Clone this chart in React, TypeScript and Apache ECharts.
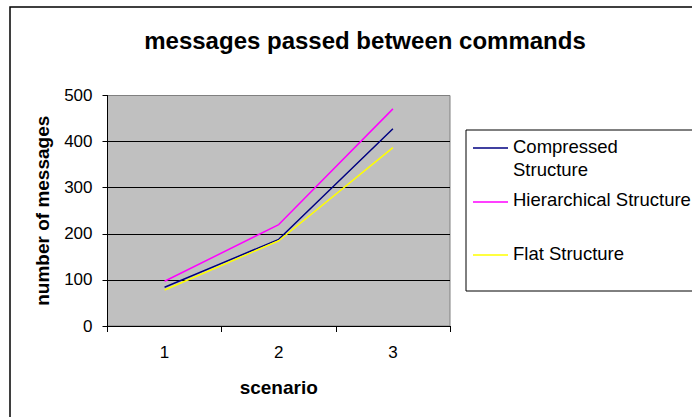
import React, { useEffect, useRef } from "react";
import * as echarts from "echarts";

const categories = ["1", "2", "3"];
const compressed = [84, 188, 428];
const hierarchical = [97, 220, 471];
const flat = [78, 185, 387];
const seriesNames = ["Compressed Structure", "Hierarchical Structure", "Flat Structure"];
const seriesColors = ["#000080", "#FF00FF", "#FFFF00"];

const FONT = "'Liberation Sans', Arial, sans-serif";

export default function App() {
  const ref = useRef<HTMLDivElement>(null);
  useEffect(() => {
    if (!ref.current) return;
    const chart = echarts.init(ref.current, null, { renderer: "svg" });
    const data = [compressed, hierarchical, flat];
    chart.setOption({
      animation: false,
      backgroundColor: "#ffffff",
      textStyle: { fontFamily: FONT },
      title: {
        text: "messages passed between commands",
        left: 360,
        top: 23,
        textAlign: "center",
        textStyle: { fontFamily: FONT, fontSize: 24, fontWeight: "bold", color: "#000" },
      },
      grid: {
        left: 107.5,
        right: 242,
        top: 95.5,
        bottom: 91,
        show: true,
        backgroundColor: "#C0C0C0",
        borderColor: "#808080",
        borderWidth: 1,
      },
      xAxis: {
        type: "category",
        data: categories,
        boundaryGap: true,
        name: "scenario",
        nameLocation: "middle",
        nameGap: 52,
        nameTextStyle: { fontFamily: FONT, fontSize: 19, fontWeight: "bold", color: "#000" },
        axisLine: { lineStyle: { color: "#000", width: 1 } },
        axisTick: { show: true, inside: false, length: 6, alignWithLabel: false, lineStyle: { color: "#000" } },
        axisLabel: { fontFamily: FONT, fontSize: 17, color: "#000", margin: 18 },
        splitLine: { show: false },
      },
      yAxis: {
        type: "value",
        min: 0,
        max: 500,
        interval: 100,
        name: "number of messages",
        nameLocation: "middle",
        nameGap: 56,
        nameTextStyle: { fontFamily: FONT, fontSize: 19, fontWeight: "bold", color: "#000" },
        axisLine: { show: true, lineStyle: { color: "#000", width: 1 } },
        axisTick: { show: true, inside: false, length: 5, lineStyle: { color: "#000" } },
        axisLabel: { fontFamily: FONT, fontSize: 17, color: "#000", margin: 15 },
        splitLine: { show: true, showMinLine: false, showMaxLine: false, lineStyle: { color: "#000", width: 1 } },
      },
      series: seriesNames.map((name, i) => ({
        name,
        type: "line",
        data: data[i],
        showSymbol: false,
        symbol: "none",
        lineStyle: { color: seriesColors[i], width: 1.5 },
        itemStyle: { color: seriesColors[i] },
      })),
      graphic: [
        {
          type: "rect",
          shape: { x: 10, y: 7, width: 700, height: 430 },
          style: { fill: "none", stroke: "#000", lineWidth: 1.5 },
          silent: true,
        },
        {
          type: "rect",
          shape: { x: 466, y: 130, width: 300, height: 161 },
          style: { fill: "#fff", stroke: "#000", lineWidth: 1 },
          silent: true,
        },
        { type: "line", shape: { x1: 473, y1: 148, x2: 508, y2: 148 }, style: { stroke: seriesColors[0], lineWidth: 1.5 } },
        { type: "line", shape: { x1: 473, y1: 202, x2: 508, y2: 202 }, style: { stroke: seriesColors[1], lineWidth: 1.5 } },
        { type: "line", shape: { x1: 473, y1: 255, x2: 508, y2: 255 }, style: { stroke: seriesColors[2], lineWidth: 1.5 } },
        { type: "text", x: 513, y: 146, style: { text: "Compressed", fontFamily: FONT, fontSize: 18.5, fill: "#000", verticalAlign: "middle" } },
        { type: "text", x: 513, y: 169, style: { text: "Structure", fontFamily: FONT, fontSize: 18.5, fill: "#000", verticalAlign: "middle" } },
        { type: "text", x: 513, y: 199, style: { text: "Hierarchical Structure", fontFamily: FONT, fontSize: 18.5, fill: "#000", verticalAlign: "middle" } },
        { type: "text", x: 513, y: 253, style: { text: "Flat Structure", fontFamily: FONT, fontSize: 18.5, fill: "#000", verticalAlign: "middle" } },
      ],
    });
    return () => chart.dispose();
  }, []);
  return (
    <div
      ref={ref}
      style={{ position: "fixed", left: 0, top: 0, width: 692, height: 417, background: "#fff" }}
    />
  );
}
